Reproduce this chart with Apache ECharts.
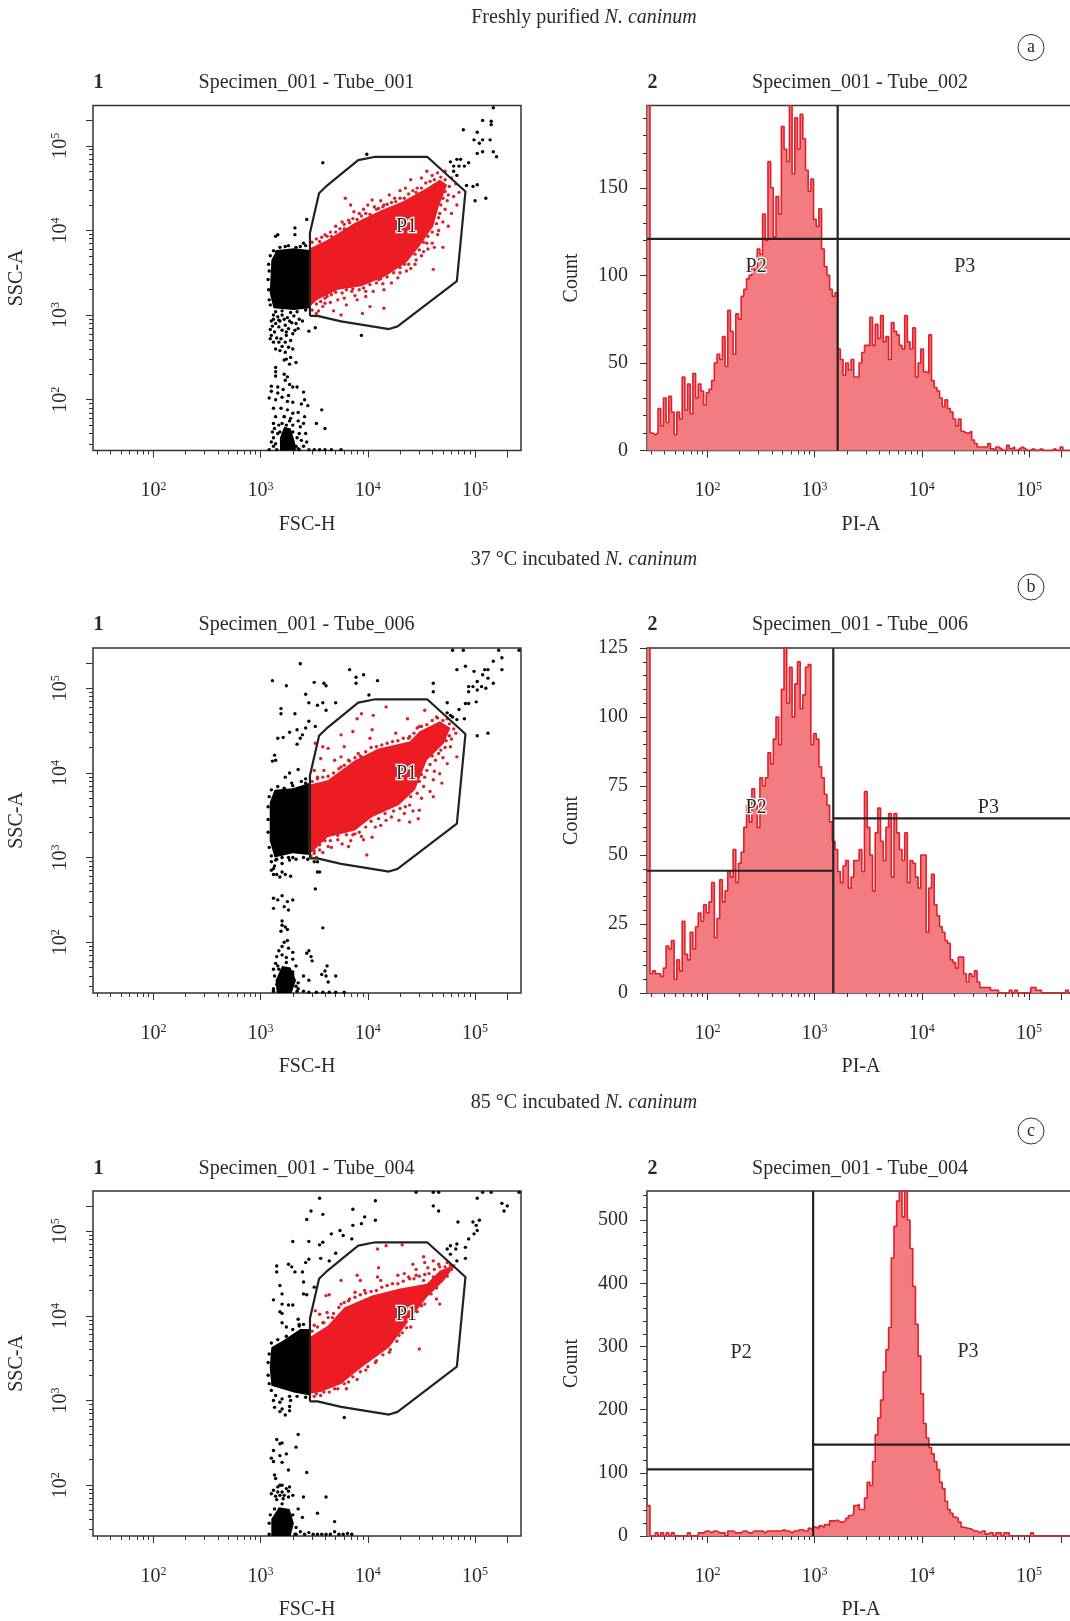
<!DOCTYPE html>
<html><head><meta charset="utf-8">
<script src="https://cdn.jsdelivr.net/npm/echarts@6/dist/echarts.min.js"></script>
<style>html,body{margin:0;padding:0;background:#fff}#c{width:1070px;height:1621px}</style></head>
<body><div id="c"></div>
<script>
// All scatter values are log10 of the signal (decades).
const decadeTicks=[2,3,4,5];
const decadeMinorX=[1.477,1.602,1.699,1.778,1.845,1.903,1.954,2.301,2.477,2.602,2.699,2.778,2.845,2.903,2.954,3.301,3.477,3.602,3.699,3.778,3.845,3.903,3.954,4.301,4.477,4.602,4.699,4.778,4.845,4.903,4.954];
const decadeLongExtra=[5.301];
const sections=["Freshly purified","37 °C incubated","85 °C incubated"];
const letters=["a","b","c"];
const tubesLeft=["Specimen_001 - Tube_001","Specimen_001 - Tube_006","Specimen_001 - Tube_004"];
const tubesRight=["Specimen_001 - Tube_002","Specimen_001 - Tube_006","Specimen_001 - Tube_004"];
const gateP1=[[3.46,2.99],[3.46,3.97],[3.545,4.44],[3.61,4.52],[3.91,4.83],[4.07,4.87],[4.553,4.87],[4.91,4.46],[4.87,3.93],[4.83,3.40],[4.277,2.866],[4.197,2.835],[3.75,2.925],[3.53,2.99],[3.46,2.99]];
const p1Label=[[4.36,4.04],[4.36,3.99],[4.36,4.01]];

const blockA=[[3.10,3.65],[3.15,3.77],[3.31,3.79],[3.46,3.77],[3.46,3.08],[3.31,3.06],[3.12,3.08],[3.085,3.26]];
const blobA=[[3.18,1.40],[3.18,1.55],[3.22,1.68],[3.28,1.66],[3.32,1.5],[3.33,1.40]];
const cloudA=[[3.46,3.79],[3.625,3.89],[3.88,4.09],[4.13,4.24],[4.32,4.34],[4.55,4.50],[4.67,4.60],[4.74,4.54],[4.66,4.28],[4.61,4.05],[4.48,3.81],[4.36,3.62],[4.165,3.46],[3.94,3.34],[3.72,3.30],[3.53,3.18],[3.46,3.10]];
const blackA=[[5.17,5.45],[5.07,5.30],[5.15,5.29],[5.15,5.25],[4.89,5.19],[5.02,5.16],[4.99,5.07],[5.04,5.03],[5.07,5.07],[5.14,5.07],[5.02,4.91],[5.07,4.93],[5.17,4.93],[5.20,4.87],[4.77,4.81],[4.83,4.84],[4.865,4.84],[4.94,4.80],[4.80,4.76],[4.85,4.76],[4.90,4.76],[4.80,4.70],[4.83,4.65],[4.92,4.53],[5.02,4.54],[4.98,4.52],[5.0,4.35],[5.10,4.38],[3.58,4.80],[3.99,4.90],
[3.16,3.95],[3.14,3.93],[3.32,4.03],[3.32,3.95],[3.43,4.13],[3.40,3.85],[3.37,3.81],[3.23,3.81],[3.15,3.75],[3.94,2.76],[3.51,2.85],[3.45,2.81],
[3.12,3.0],[3.16,2.98],[3.2,3.0],[3.25,2.97],[3.31,2.99],[3.36,2.95],[3.1,2.93],[3.14,2.9],[3.18,2.93],[3.23,2.88],[3.27,2.93],[3.33,2.9],[3.39,2.93],[3.09,2.83],[3.13,2.8],[3.2,2.82],[3.26,2.84],[3.3,2.78],[3.35,2.84],[3.1,2.76],
[3.15,2.73],[3.19,2.72],[3.24,2.76],[3.28,2.7],[3.12,2.68],[3.2,2.63],[3.26,2.62],[3.3,2.6],[3.23,2.56],[3.28,2.5],[3.22,2.47],[3.33,2.44],[3.27,2.42],[3.14,2.38],[3.14,2.33],[3.14,2.28],
[3.22,2.3],[3.25,2.27],[3.23,2.23],[3.27,2.18],[3.1,2.16],[3.16,2.15],[3.3,2.15],[3.34,2.15],[3.1,2.1],[3.16,2.08],[3.21,2.12],[3.26,2.05],[3.4,2.09],[3.08,2.02],[3.14,2.0],[3.2,2.03],[3.25,1.98],[3.3,1.97],[3.41,2.0],[3.38,1.95],[3.44,1.93],[3.57,1.88],
[3.12,1.9],[3.19,1.9],[3.25,1.88],[3.3,1.84],[3.35,1.85],[3.14,1.8],[3.22,1.8],[3.28,1.78],[3.35,1.75],[3.41,1.8],[3.12,1.72],[3.17,1.7],[3.3,1.7],[3.37,1.68],[3.4,1.72],[3.52,1.72],[3.6,1.66],[3.11,1.62],[3.36,1.6],[3.42,1.6],[3.12,1.55],[3.38,1.52],[3.43,1.5],[3.1,1.5],[3.4,1.45],
[3.08,1.41],[3.15,1.41],[3.35,1.42],[3.45,1.41],[3.5,1.41],[3.55,1.41],[3.6,1.41],[3.66,1.41],[3.75,1.41],
[3.075,3.3],[3.07,3.42],[3.08,3.52],[3.075,3.6],[3.09,3.7],[3.12,3.76],[3.18,3.8],[3.26,3.82],[3.33,3.8],[3.42,3.82],[3.08,3.18],[3.09,3.12],[3.14,3.04],[3.2,3.05],[3.28,3.03],[3.34,3.04],[3.42,3.06],[3.12,2.95],[3.17,2.94],[3.22,2.95],[3.29,2.91],[3.11,2.87],[3.17,2.86],[3.24,2.8],[3.32,2.82],[3.09,2.72],[3.17,2.68],[3.23,2.68],[3.18,2.58],[3.14,2.6],[3.24,2.48],
[3.12,1.45],[3.14,1.48],[3.16,1.6],[3.33,1.45],[3.36,1.41],[3.24,1.7],[3.2,1.72],[3.3,1.62],[3.34,1.55],[3.18,1.62],[3.13,1.66],[3.27,1.75],[3.22,1.8]];
const redA=[[3.55,3.87],[3.6,3.95],[3.65,3.98],[3.7,4.05],[3.76,4.1],[3.78,4.02],[3.82,4.12],[3.79,4.38],[3.84,4.3],[3.87,4.22],[3.92,4.2],[3.96,4.25],[4.0,4.3],[4.04,4.36],[4.08,4.25],[4.12,4.35],[4.15,4.3],[4.2,4.42],[4.25,4.38],[4.3,4.47],[4.35,4.5],[4.4,4.6],[4.45,4.45],[4.5,4.62],[4.55,4.7],[4.6,4.65],[4.65,4.68],[4.72,4.7],[4.78,4.62],[4.82,4.55],[4.85,4.45],[4.8,4.4],[4.83,4.3],[4.78,4.2],[4.74,4.35],[4.7,4.1],[4.75,4.05],[4.65,3.95],[4.66,4.15],[4.6,3.85],[4.7,3.8],[4.52,3.75],[4.55,3.85],[4.61,3.54],[4.45,3.65],[4.4,3.55],[4.3,3.5],[4.22,3.38],[4.15,3.3],[4.1,3.42],[4.05,3.28],[3.98,3.22],[3.9,3.18],[3.85,3.28],[3.8,3.12],[3.72,3.18],[3.68,3.05],[3.62,3.22],[3.58,3.1],[3.52,3.02],[3.75,3.0],[3.95,3.02],[4.02,3.1],[4.15,3.08],
[3.48,3.86],[3.52,3.9],[3.57,3.92],[3.62,3.93],[3.66,3.93],[3.7,3.98],[3.74,4.02],[3.78,4.07],[3.83,4.09],[3.86,4.14],[3.9,4.13],[3.94,4.17],[3.98,4.2],[4.02,4.19],[4.06,4.28],[4.1,4.26],[4.14,4.28],[4.18,4.31],[4.22,4.33],[4.26,4.34],[4.3,4.38],[4.34,4.38],[4.38,4.43],[4.42,4.47],[4.46,4.5],[4.5,4.5],[4.54,4.56],[4.58,4.58],[4.62,4.6],[4.68,4.63],[4.72,4.6],[4.76,4.52],[4.72,4.46],[4.75,4.42],[4.7,4.38],[4.68,4.3],[4.72,4.25],[4.67,4.2],[4.64,4.08],[4.66,4.0],[4.6,3.98],[4.56,3.93],[4.52,3.86],[4.48,3.77],[4.44,3.72],[4.38,3.6],[4.34,3.6],[4.3,3.56],[4.24,3.5],[4.18,3.45],[4.12,3.43],[4.08,3.38],[4.02,3.36],[3.96,3.32],[3.92,3.3],[3.86,3.31],[3.8,3.3],[3.76,3.26],[3.7,3.27],[3.66,3.24],[3.6,3.2],[3.56,3.16],[3.52,3.13],[3.48,3.06],[3.54,3.05],[3.6,3.14],[3.65,3.15],[3.78,3.2],[3.88,3.23],[3.98,3.28],[4.14,3.37],[4.28,3.44],[4.36,3.52],[4.44,3.6],[4.5,3.7],[4.56,3.78],[4.62,3.8]];

const blockB=[[3.085,3.2],[3.085,3.65],[3.13,3.8],[3.3,3.82],[3.45,3.88],[3.45,3.03],[3.3,3.05],[3.13,3.0]];
const blobB=[[3.15,1.40],[3.14,1.55],[3.2,1.72],[3.28,1.7],[3.33,1.55],[3.29,1.40]];
const cloudB=[[3.45,3.86],[3.625,3.915],[3.88,4.15],[4.10,4.29],[4.39,4.37],[4.48,4.49],[4.67,4.61],[4.77,4.53],[4.71,4.35],[4.55,4.15],[4.44,3.80],[4.29,3.62],[4.04,3.48],[3.88,3.32],[3.625,3.24],[3.45,3.03]];
const blackB=[[3.37,5.29],[3.11,5.09],[3.24,5.03],[3.50,5.07],[3.59,5.06],[3.61,5.03],[3.83,5.22],[3.96,5.16],[3.89,5.13],[3.89,5.06],[4.09,5.09],[4.01,4.92],[3.42,4.93],[3.45,4.83],[3.53,4.80],[3.58,4.83],[3.70,4.83],[3.61,4.74],[3.19,4.76],[3.19,4.70],[3.32,4.70],[3.45,4.61],[3.42,4.53],[3.34,4.51],[3.27,4.48],[3.21,4.42],[3.16,4.41],[3.39,4.45],[3.37,4.41],[3.34,4.34],[3.51,4.55],[3.13,4.21],[3.14,4.15],[3.11,4.14],[3.35,4.04],[3.27,4.0],[3.23,3.95],[3.42,3.88],[3.29,3.88],
[4.79,5.45],[4.89,5.45],[5.22,5.45],[5.41,5.45],[5.17,5.32],[5.25,5.36],[5.25,5.22],[4.83,5.22],[4.91,5.26],[4.99,5.2],[5.09,5.22],[5.12,5.22],[5.07,5.16],[5.12,5.12],[5.17,5.06],[5.02,5.08],[4.94,5.02],[4.98,5.02],[5.06,5.02],[5.10,5.0],[4.94,4.96],[5.02,4.98],[4.61,5.06],[4.61,4.96],[4.91,4.82],[4.94,4.82],[5.01,4.84],[4.74,4.83],[4.85,4.75],[4.77,4.68],[4.74,4.71],[4.79,4.66],[4.83,4.63],[4.9,4.64],[5.02,4.44],[5.12,4.47],
[3.1,2.95],[3.15,2.98],[3.13,2.9],[3.2,2.93],[3.27,2.97],[3.3,3.0],[3.5,2.95],[3.53,2.95],[3.1,2.85],[3.15,2.8],[3.2,2.83],[3.23,2.8],[3.28,2.78],[3.53,2.83],[3.55,2.83],[3.51,2.63],[3.12,2.52],[3.16,2.5],[3.2,2.55],[3.25,2.48],[3.3,2.5],[3.22,2.42],[3.26,2.38],[3.12,2.4],[3.2,2.2],[3.2,2.25],[3.23,2.18],[3.25,2.15],[3.19,2.13],[3.58,2.17],[3.22,2.0],[3.25,2.02],[3.2,1.95],[3.26,1.93],[3.17,1.9],[3.3,1.88],[3.15,1.83],[3.2,1.85],[3.24,1.82],[3.3,1.8],[3.14,1.75],[3.33,1.72],[3.12,1.68],[3.3,1.65],[3.45,1.9],[3.43,1.87],[3.47,1.83],[3.48,1.78],[3.62,1.72],[3.6,1.66],[3.57,1.62],[3.61,1.6],[3.7,1.6],[3.63,1.53],[3.4,1.6],[3.35,1.52],[3.45,1.55],[3.15,1.5],[3.35,1.45],[3.4,1.42],[3.45,1.41],[3.52,1.41],[3.58,1.41],[3.64,1.41],[3.7,1.41],[3.78,1.41],[3.12,1.42],
[3.07,3.3],[3.07,3.45],[3.07,3.6],[3.08,3.72],[3.1,3.8],[3.16,3.84],[3.22,3.82],[3.3,3.85],[3.38,3.9],[3.42,3.93],[3.08,3.12],[3.1,3.02],[3.14,2.97],[3.2,3.0],[3.26,3.0],[3.33,2.98],[3.4,3.0],[3.44,2.98],[3.12,2.87],[3.12,2.8],[3.18,2.77],[3.12,1.45],[3.13,1.6],[3.17,1.68],[3.3,1.62],[3.33,1.48],[3.34,1.42],[3.16,1.72],[3.24,1.76]];
const redB=[[3.94,4.70],[3.90,4.64],[4.17,4.78],[4.05,4.68],[4.37,4.64],[4.53,4.74],[3.75,4.45],[3.86,4.49],[4.02,4.41],[4.26,4.47],[3.63,4.29],[3.58,4.31],[3.78,4.31],[3.51,4.35],[4.04,4.51],[3.75,4.19],[3.56,4.17],[3.91,4.23],[3.69,4.15],[3.82,4.15],[3.59,4.03],[3.5,4.03],[3.53,3.95],[3.75,4.07],[3.94,4.19],
[4.39,4.43],[4.48,4.55],[4.64,4.66],[4.74,4.64],[4.82,4.47],[4.77,4.31],[4.83,4.19],[4.66,4.23],[4.63,4.15],[4.74,4.11],[4.67,3.99],[4.61,3.92],[4.53,3.95],[4.69,3.88],[4.61,3.72],[4.52,3.84],[4.47,3.46],[4.39,3.42],[4.29,3.44],[4.39,3.62],[4.48,3.56],
[4.17,3.44],[4.07,3.36],[4.04,3.24],[3.96,3.21],[3.99,3.03],[3.82,3.13],[3.75,3.34],[3.67,3.28],[3.59,3.32],[3.63,3.13],[3.55,3.09],[3.5,3.05],[3.72,3.21],[3.88,3.28],
[3.48,3.9],[3.53,3.93],[3.58,3.95],[3.63,3.96],[3.68,4.0],[3.73,4.05],[3.78,4.09],[3.83,4.14],[3.88,4.18],[3.93,4.2],[3.98,4.25],[4.03,4.3],[4.08,4.31],[4.13,4.33],[4.18,4.35],[4.23,4.37],[4.28,4.38],[4.33,4.41],[4.38,4.41],[4.43,4.47],[4.46,4.53],[4.5,4.55],[4.55,4.57],[4.6,4.62],[4.65,4.65],[4.7,4.62],[4.76,4.58],[4.8,4.52],[4.76,4.44],[4.73,4.38],[4.72,4.3],[4.68,4.27],[4.6,4.2],[4.58,4.1],[4.55,4.03],[4.5,3.98],[4.48,3.9],[4.46,3.76],[4.4,3.72],[4.35,3.6],[4.3,3.58],[4.24,3.55],[4.16,3.52],[4.1,3.46],[4.03,3.43],[3.98,3.36],[3.92,3.3],[3.86,3.27],[3.8,3.27],[3.72,3.26],[3.65,3.2],[3.6,3.2],[3.55,3.15],[3.5,3.08],[3.47,3.02],[3.52,3.0],[3.58,3.06],[3.66,3.12],[3.76,3.16],[3.84,3.2],[3.94,3.25],[4.12,3.38],[4.22,3.48],[4.34,3.52],[4.42,3.55],[4.5,3.7],[4.58,3.78],[4.62,4.02],[4.7,4.18],[4.78,4.4]];

const blockC=[[3.10,3.63],[3.21,3.71],[3.37,3.845],[3.46,3.845],[3.46,3.06],[3.31,3.096],[3.10,3.175],[3.085,3.39]];
const blobC=[[3.10,1.40],[3.10,1.6],[3.17,1.74],[3.27,1.72],[3.31,1.55],[3.28,1.40]];
const cloudC=[[3.46,3.75],[3.625,3.885],[3.78,4.10],[4.04,4.24],[4.29,4.32],[4.55,4.38],[4.67,4.535],[4.82,4.61],[4.71,4.42],[4.55,4.22],[4.36,3.905],[4.20,3.63],[3.94,3.39],[3.75,3.195],[3.56,3.10],[3.46,3.08]];
const blackC=[[4.45,5.46],[4.61,5.46],[4.66,5.46],[5.07,5.46],[5.15,5.46],[5.41,5.46],[3.55,5.39],[4.07,5.36],[5.02,5.39],[5.25,5.33],[5.30,5.30],[5.27,5.24],[4.61,5.30],[4.66,5.24],[3.86,5.26],[3.47,5.24],[3.58,5.20],[3.43,5.14],[3.97,5.17],[3.94,5.09],[3.86,5.07],[4.07,5.13],[4.84,5.11],[4.98,5.11],[5.04,5.13],[5.01,5.07],[5.02,5.01],[4.99,4.97],[4.94,4.91],[3.66,4.97],[3.74,5.01],[3.77,4.95],[3.85,4.91],[3.30,4.88],[3.45,4.88],[3.58,4.87],[3.55,4.84],[3.70,4.74],[3.45,4.67],[3.42,4.63],[3.56,4.68],[3.64,4.65],[3.15,4.59],[3.15,4.52],[3.26,4.61],[3.29,4.58],[3.32,4.52],[3.39,4.52],[3.40,4.40],[3.18,4.36],[3.20,4.26],[3.40,4.26],[3.43,4.25],[3.50,4.34],[3.12,4.19],[3.20,4.14],[3.26,4.13],[3.30,4.13],[3.18,4.05],[3.20,4.03],[3.35,3.96],[3.36,3.90],[3.20,3.92],[3.24,3.87],[4.83,4.85],[4.77,4.83],[4.82,4.79],[4.74,4.79],[4.91,4.81],[4.91,4.68],[4.77,4.73],[4.83,4.65],[3.78,2.80],
[3.13,2.92],[3.2,2.9],[3.27,2.93],[3.27,2.88],[3.18,2.87],[3.23,2.83],[3.18,2.98],[3.28,3.0],[3.35,2.60],[3.15,2.54],[3.18,2.49],[3.20,2.50],[3.33,2.45],[3.12,2.41],[3.24,2.37],[3.18,2.35],[3.10,2.32],[3.12,2.28],[3.20,2.27],[3.26,2.18],[3.43,2.15],
[3.13,2.12],[3.14,2.08],[3.18,2.0],[3.16,1.98],[3.2,2.0],[3.12,1.94],[3.16,1.92],[3.2,1.92],[3.24,1.96],[3.27,1.98],[3.1,1.9],[3.14,1.87],[3.18,1.88],[3.22,1.88],[3.26,1.93],[3.15,1.83],[3.21,1.84],[3.26,1.86],[3.3,1.88],[3.40,1.86],[3.61,1.86],[3.53,1.67],[3.69,1.57],[3.35,1.72],[3.39,1.62],
[3.33,1.42],[3.37,1.45],[3.41,1.42],[3.45,1.44],[3.49,1.42],[3.53,1.42],[3.57,1.42],[3.61,1.42],[3.65,1.42],[3.69,1.45],[3.73,1.42],[3.77,1.42],[3.81,1.43],[3.85,1.42],
[3.07,3.3],[3.07,3.45],[3.08,3.55],[3.1,3.68],[3.16,3.72],[3.24,3.76],[3.3,3.84],[3.36,3.88],[3.4,3.9],[3.08,3.2],[3.1,3.12],[3.14,3.06],[3.2,3.02],[3.27,3.05],[3.34,3.05],[3.42,3.04],[3.12,3.0],[3.08,1.42],[3.08,1.55],[3.09,1.65],[3.13,1.72],[3.2,1.78],[3.3,1.65],[3.33,1.5],[3.32,1.42]];
const redC=[[4.09,4.79],[4.17,4.83],[4.32,4.84],[4.52,4.70],[4.61,4.65],[4.53,4.63],[4.42,4.61],[4.45,4.55],[4.56,4.57],[4.66,4.61],[4.74,4.63],[4.80,4.59],[4.10,4.57],[4.09,4.46],[4.12,4.42],[4.28,4.48],[4.34,4.50],[4.39,4.44],[4.45,4.48],[4.52,4.42],[4.61,4.46],[4.69,4.52],[3.90,4.48],[3.93,4.42],[3.75,4.42],[3.88,4.28],[3.97,4.30],[3.82,4.18],[3.61,4.24],[3.64,4.25],[3.75,4.14],[3.51,4.06],[3.55,4.02],[3.62,4.04],[3.67,3.98],[3.50,3.89],[3.59,3.92],[4.59,4.26],[4.67,4.14],[4.64,4.20],[4.53,4.14],[4.40,3.87],[4.48,3.61],[4.29,3.77],[4.20,3.57],[4.07,3.45],[3.90,3.25],[3.80,3.14],[3.69,3.14],[3.59,3.10],[4.56,4.30],
[3.48,3.82],[3.53,3.87],[3.58,3.92],[3.63,3.98],[3.68,4.03],[3.73,4.1],[3.78,4.16],[3.83,4.2],[3.88,4.22],[3.93,4.25],[3.98,4.27],[4.03,4.29],[4.08,4.3],[4.13,4.34],[4.18,4.36],[4.23,4.38],[4.28,4.38],[4.33,4.41],[4.38,4.46],[4.43,4.44],[4.48,4.47],[4.53,4.49],[4.57,4.5],[4.62,4.55],[4.67,4.58],[4.72,4.58],[4.77,4.6],[4.78,4.55],[4.74,4.47],[4.68,4.42],[4.64,4.33],[4.6,4.32],[4.55,4.26],[4.5,4.12],[4.46,4.05],[4.42,3.98],[4.36,3.86],[4.32,3.8],[4.27,3.7],[4.21,3.6],[4.14,3.54],[4.08,3.47],[4.0,3.4],[3.93,3.34],[3.86,3.28],[3.78,3.2],[3.72,3.14],[3.64,3.1],[3.56,3.06],[3.5,3.05],[3.82,3.22],[3.98,3.36],[3.52,3.08]];

// Histograms: one count per bin; bins are equal-width in decades.
const binStart=1.44, binStep=0.025;
const countsA=[197,10,9,10,24,14,30,16,31,22,9,22,18,42,23,38,21,44,30,38,34,26,33,35,40,50,55,52,65,48,80,68,55,78,75,88,92,98,100,105,103,115,112,135,120,165,150,122,145,135,185,172,165,197,158,190,172,192,178,160,148,155,132,128,138,115,105,100,92,88,90,58,52,43,50,46,52,42,42,50,56,60,60,76,60,72,64,77,62,65,52,73,68,66,60,58,77,62,58,70,42,50,58,45,44,66,40,36,34,30,25,29,24,22,18,14,18,11,10,10,11,6,4,2,2,2,2,4,1,0,2,1,0,0,3,1,2,0,1,2,1,0,0,1,0,0,1,0,0,0,0,1,0,0,2,0,0,0,0,0,0];
const countsB=[125,7,8,7,7,6,9,17,16,19,5,12,8,26,14,12,22,16,24,29,26,32,29,33,40,20,27,41,33,37,44,42,52,40,47,51,60,68,62,74,68,60,78,75,78,87,83,92,100,90,110,125,105,118,100,112,120,103,108,118,119,90,94,92,82,78,72,68,62,55,52,44,40,46,48,38,42,48,48,52,44,73,60,50,37,58,67,55,48,60,65,42,65,58,52,48,58,40,48,47,42,38,50,50,22,38,43,32,28,24,22,19,18,12,11,9,13,13,7,4,7,6,8,4,2,2,2,2,1,1,1,0,0,0,0,1,0,1,0,0,0,0,0,2,2,1,1,0,0,0,0,0,0,0,0,0,1,0,0,0,0];
const countsC=[48,0,0,5,0,5,0,5,0,5,0,0,0,0,0,5,0,0,0,5,5,8,8,5,8,8,5,5,5,0,8,8,5,5,5,8,8,5,5,8,8,8,8,5,8,8,8,8,8,8,10,8,8,5,8,8,10,10,8,8,12,10,14,12,16,14,18,17,24,24,25,22,22,24,28,32,35,48,50,42,42,60,85,80,118,160,187,215,260,295,330,440,490,530,546,505,546,500,455,395,335,285,225,178,155,140,130,118,105,85,75,55,42,36,30,28,22,14,13,12,11,8,8,5,8,8,3,5,5,0,5,5,0,5,5,0,0,0,0,0,0,0,0,5,0,0,0,0,0,0,0,0,0,0,0,0,0,0,0,0,0];
const countMax=[197,125,546];
const countMajor=[[0,50,100,150],[0,25,50,75,100,125],[0,100,200,300,400,500]];
const countMinor=[[10,20,30,40,60,70,80,90,110,120,130,140,160,170,180,190],[5,10,15,20,30,35,40,45,55,60,65,70,80,85,90,95,105,110,115,120],[20,40,60,80,120,140,160,180,220,240,260,280,320,340,360,380,420,440,460,480,520,540]];
const verticalGate=[3.215,3.174,2.986];
const leftGateY=[120.8,44.3,105.5];
const rightGateY=[120.8,63.3,144.5];
const p2Label=[[2.455,105],[2.455,67],[2.315,290]];
const p3Label=[[4.40,105],[4.62,67],[4.43,292]];

const xMin=1.437,xMax=5.428,yMin=1.40,yMax=5.476;
const font='"Liberation Serif",serif', ink='#2a2a2a';
const rows=[[blockA,blobA,cloudA,blackA,redA,countsA],[blockB,blobB,cloudB,blackB,redB,countsB],[blockC,blobC,cloudC,blackC,redC,countsC]];
const rowTop=[105.5,648,1191], headY=[83.5,626,1169.5], secY=[18.5,561,1104], circY=[47.5,587,1131];
const gridH=345, gridW=428, leftX=93, rightX=647;

const grid=[],xAxis=[],yAxis=[],series=[],title=[],graphic=[];
const decadeFmt=v=>'{b|10}{s|'+v+'}';
const labelRich={b:{fontFamily:font,fontSize:20,color:ink},s:{fontFamily:font,fontSize:12,color:ink,padding:[0,0,9,0]}};
const tickStyle={color:'#333',width:1};
function addAxes(gi,isCount,row){
  const mk=(extra)=>Object.assign({gridIndex:gi,type:'value',splitLine:{show:false},axisLine:{show:false,onZero:false},axisPointer:{show:false}},extra);
  xAxis.push(mk({min:xMin,max:xMax,position:'bottom',name:isCount?'PI-A':'FSC-H',nameLocation:'middle',nameGap:64,nameTextStyle:{fontFamily:font,fontSize:20,color:ink},
    axisTick:{show:true,length:7,inside:false,lineStyle:tickStyle,customValues:decadeTicks.concat(decadeLongExtra)},
    axisLabel:{show:true,margin:30,rich:labelRich,customValues:decadeTicks,formatter:decadeFmt}}));
  xAxis.push(mk({min:xMin,max:xMax,position:'bottom',axisLabel:{show:false},axisTick:{show:true,length:4,lineStyle:tickStyle,customValues:decadeMinorX}}));
  if(isCount){
    yAxis.push(mk({min:0,max:countMax[row],position:'left',name:'Count',nameLocation:'middle',nameGap:65,nameTextStyle:{fontFamily:font,fontSize:20,color:ink},
      axisTick:{show:true,length:7,lineStyle:tickStyle,customValues:countMajor[row]},
      axisLabel:{show:true,margin:19,fontFamily:font,fontSize:20,color:ink,customValues:countMajor[row]}}));
    yAxis.push(mk({min:0,max:countMax[row],position:'left',axisLabel:{show:false},axisTick:{show:true,length:4,lineStyle:tickStyle,customValues:countMinor[row]}}));
  }else{
    yAxis.push(mk({min:yMin,max:yMax,position:'left',name:'SSC-A',nameLocation:'middle',nameGap:66,nameTextStyle:{fontFamily:font,fontSize:20,color:ink},
      axisTick:{show:true,length:7,lineStyle:tickStyle,customValues:decadeTicks.concat(decadeLongExtra)},
      axisLabel:{show:true,margin:22,rotate:90,rich:labelRich,customValues:decadeTicks,formatter:decadeFmt}}));
    yAxis.push(mk({min:yMin,max:yMax,position:'left',axisLabel:{show:false},axisTick:{show:true,length:4,lineStyle:tickStyle,customValues:decadeMinorX}}));
  }
}
function polygon(pts,fill,ax,z){
  return {type:'custom',xAxisIndex:ax,yAxisIndex:ax,data:pts,encode:{x:0,y:1},silent:true,z,
    renderItem:(p,api)=>p.dataIndex===0?{type:'polygon',shape:{points:pts.map(q=>api.coord(q))},style:{fill}}:null};
}
function textMark(pt,text,ax,halo){
  return {type:'scatter',xAxisIndex:ax,yAxisIndex:ax,data:[pt],symbolSize:0,silent:true,z:9,itemStyle:{opacity:1},
    label:{show:true,position:'inside',formatter:text,fontFamily:font,fontSize:20,color:ink,
      textBorderColor:halo?'#fff':'transparent',textBorderWidth:halo?2.5:0}};
}
function seg(pts,ax){
  return {type:'line',xAxisIndex:ax,yAxisIndex:ax,data:pts,showSymbol:false,silent:true,z:8,lineStyle:{color:'#222',width:2.2}};
}
const gridBase={width:gridW,height:gridH,show:true,borderColor:'#333',borderWidth:1.5,backgroundColor:'#fff',outerBoundsMode:'none'};
rows.forEach((r,i)=>{
  const [block,blob,cloud,black,red,counts]=r;
  const top=rowTop[i];
  // scatter panel
  let gi=grid.length, ax=xAxis.length;
  grid.push(Object.assign({left:leftX,top},gridBase));
  addAxes(gi,false,i);
  series.push(polygon(block,'#000',ax,3),polygon(blob,'#000',ax,3));
  series.push({type:'scatter',xAxisIndex:ax,yAxisIndex:ax,data:black,symbol:'circle',symbolSize:3.4,silent:true,z:3,itemStyle:{color:'#000',opacity:1}});
  series.push(polygon(cloud,'#ed1c24',ax,4));
  series.push({type:'scatter',xAxisIndex:ax,yAxisIndex:ax,data:red,symbol:'circle',symbolSize:3.4,silent:true,z:4,itemStyle:{color:'#d8222b',opacity:1}});
  series.push({type:'line',xAxisIndex:ax,yAxisIndex:ax,data:gateP1,showSymbol:false,silent:true,z:6,lineStyle:{color:'#222',width:2.2}});
  series.push(textMark(p1Label[i],'P1',ax,true));
  // histogram panel
  gi=grid.length; ax=xAxis.length;
  grid.push(Object.assign({left:rightX,top},gridBase));
  addAxes(gi,true,i);
  series.push({type:'line',xAxisIndex:ax,yAxisIndex:ax,step:'end',showSymbol:false,silent:true,z:3,
    data:counts.map((c,k)=>[binStart+k*binStep,c]),
    lineStyle:{color:'#e0202a',width:1.6},areaStyle:{color:'#f37c81',opacity:1}});
  const v=verticalGate[i];
  series.push(seg([[v,0],[v,countMax[i]]],ax),seg([[xMin,leftGateY[i]],[v,leftGateY[i]]],ax),seg([[v,rightGateY[i]],[xMax,rightGateY[i]]],ax));
  series.push(textMark(p2Label[i],'P2',ax,i<2),textMark(p3Label[i],'P3',ax,false));
  // headers
  title.push({text:'{a|'+sections[i]+' }{i|N. caninum}',left:584,top:secY[i]-11,textAlign:'center',padding:0,
    textStyle:{fontWeight:'normal',rich:{a:{fontFamily:font,fontSize:20,fontWeight:'normal',color:ink},i:{fontFamily:font,fontSize:20,fontWeight:'normal',fontStyle:'italic',color:ink}}}});
  [[leftX+0.5,306.5,tubesLeft[i],'1'],[rightX+0.5,860,tubesRight[i],'2']].forEach(h=>{
    title.push({text:h[3],left:h[0],top:headY[i]-11,padding:0,textStyle:{fontFamily:font,fontSize:20,fontWeight:'bold',color:ink}});
    title.push({text:h[2],left:h[1],top:headY[i]-11,padding:0,textAlign:'center',textStyle:{fontFamily:font,fontSize:20,fontWeight:'normal',color:ink}});
  });
  graphic.push({type:'circle',shape:{cx:1031,cy:circY[i],r:13},style:{fill:'#fff',stroke:'#333',lineWidth:1}});
  graphic.push({type:'text',x:1031,y:circY[i],style:{text:letters[i],fontFamily:font,fontSize:18,fill:ink,align:'center',verticalAlign:'middle'}});
});
const chart=echarts.init(document.getElementById('c'),null,{renderer:'canvas',width:1070,height:1621});
chart.setOption({animation:false,backgroundColor:'#fff',tooltip:{show:false},legend:{show:false},grid,xAxis,yAxis,series,title,graphic});
</script></body></html>
